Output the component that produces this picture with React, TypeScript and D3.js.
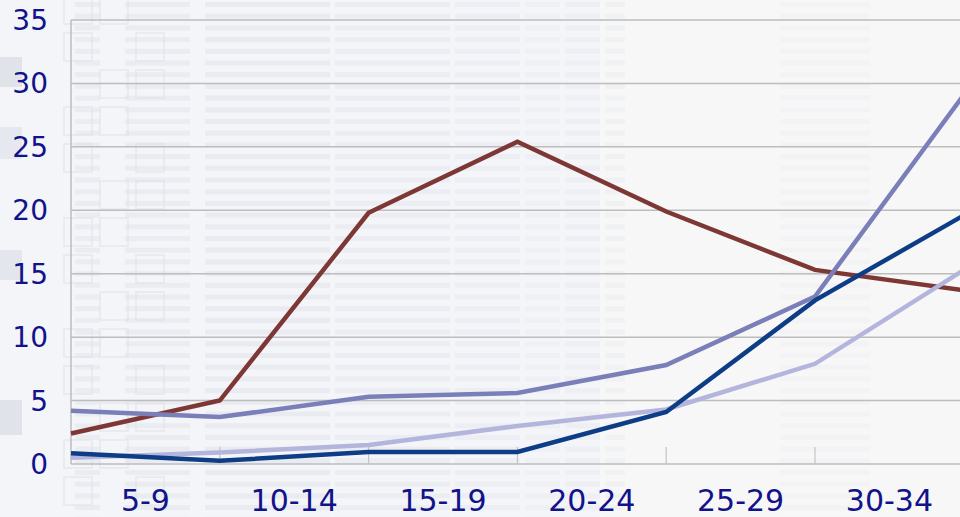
import React, { useEffect, useRef } from 'react';
import * as d3 from 'd3';

// age groups shown under the axis (labels sit between the data points)
const ageGroups = ['5-9', '10-14', '15-19', '20-24', '25-29', '30-34'];
const yTicks = [0, 5, 10, 15, 20, 25, 30, 35];

// one value per category boundary
const seriesRed = [2.4, 5.0, 19.8, 25.4, 19.9, 15.3, 13.7];
const seriesMid = [4.2, 3.7, 5.3, 5.6, 7.8, 13.2, 29.1];
const seriesLight = [0.5, 0.9, 1.5, 3.0, 4.3, 7.9, 15.3];
const seriesNavy = [0.85, 0.25, 0.95, 0.95, 4.1, 12.9, 19.6];

const series = [
  { name: 'red', values: seriesRed, color: '#7D3734' },
  { name: 'mid', values: seriesMid, color: '#7A7FBA' },
  { name: 'light', values: seriesLight, color: '#B3B5DD' },
  { name: 'navy', values: seriesNavy, color: '#0D3D86' },
];

const W = 960;
const H = 517;

export default function App() {
  const svgRef = useRef<SVGSVGElement>(null);

  useEffect(() => {
    const svg = d3.select(svgRef.current);
    svg.selectAll('*').remove();

    const left = 71;
    const top = 20;
    const bottom = 464;
    const step = 148.8;

    const x = d3.scaleLinear().domain([0, 6]).range([left, left + 6 * step]);
    const y = d3.scaleLinear().domain([0, 35]).range([bottom, top]);

    // background texture, roughly like the picture fill
    const bg = svg.append('g');
    bg.append('rect').attr('width', W).attr('height', H).attr('fill', '#F7F7F7');
    bg.append('rect').attr('x', 0).attr('width', 600).attr('height', H).attr('fill', '#F4F5F9');
    const stripeCols = [
      [75, 100, 0.7], [125, 190, 0.7], [205, 330, 0.8], [335, 450, 0.65],
      [455, 520, 0.55], [525, 560, 0.4], [565, 600, 0.45], [605, 625, 0.4], [780, 870, 0.2],
    ];
    stripeCols.forEach(([x0, x1, op]) => {
      for (let yy = 2; yy < H; yy += 11.7) {
        bg.append('rect')
          .attr('x', x0).attr('y', yy)
          .attr('width', x1 - x0).attr('height', 5)
          .attr('fill', '#E6E8EE').attr('opacity', op);
      }
    });
    // faint squares on the left
    const sq = bg.append('g').attr('fill', 'none').attr('stroke', '#E0E2E7').attr('stroke-width', 2);
    for (let r = 0; r < 14; r++) {
      for (let c = 0; c < 3; c++) {
        if ((r + c) % 3 === 2) continue;
        sq.append('rect')
          .attr('x', 64 + c * 36).attr('y', -4 + r * 37)
          .attr('width', 28).attr('height', 28)
          .attr('opacity', 0.55);
      }
    }
    bg.append('rect').attr('x', 0).attr('y', 57).attr('width', 22).attr('height', 30).attr('fill', '#E1E3EB');
    bg.append('rect').attr('x', 0).attr('y', 127).attr('width', 22).attr('height', 32).attr('fill', '#E6E8EF');
    bg.append('rect').attr('x', 0).attr('y', 250).attr('width', 22).attr('height', 30).attr('fill', '#E4E6ED');
    bg.append('rect').attr('x', 0).attr('y', 400).attr('width', 22).attr('height', 35).attr('fill', '#E1E3EB');

    // gridlines
    svg.append('g')
      .selectAll('line')
      .data(yTicks.filter((t) => t > 0))
      .join('line')
      .attr('x1', left).attr('x2', W)
      .attr('y1', (d) => y(d)).attr('y2', (d) => y(d))
      .attr('stroke', '#BDBDBD').attr('stroke-width', 1.5);

    // axes lines
    svg.append('line')
      .attr('x1', left).attr('x2', left).attr('y1', top).attr('y2', bottom)
      .attr('stroke', '#BDBDBD').attr('stroke-width', 1.5);
    svg.append('line')
      .attr('x1', left).attr('x2', W).attr('y1', bottom).attr('y2', bottom)
      .attr('stroke', '#BDBDBD').attr('stroke-width', 1.5);

    // x tick marks at category boundaries
    svg.append('g')
      .selectAll('line')
      .data(d3.range(1, 7))
      .join('line')
      .attr('x1', (d) => x(d)).attr('x2', (d) => x(d))
      .attr('y1', bottom - 17).attr('y2', bottom)
      .attr('stroke', '#C4C4C4').attr('stroke-width', 1.2);

    // y labels
    svg.append('g')
      .selectAll('text')
      .data(yTicks)
      .join('text')
      .attr('x', 48)
      .attr('y', (d) => y(d) + 10)
      .attr('text-anchor', 'end')
      .attr('font-family', 'DejaVu Sans, Verdana, sans-serif')
      .attr('font-size', 28)
      .attr('fill', '#12128A')
      .text((d) => d);

    // x labels
    svg.append('g')
      .selectAll('text')
      .data(ageGroups)
      .join('text')
      .attr('x', (d, i) => x(i + 0.5))
      .attr('y', 511)
      .attr('text-anchor', 'middle')
      .attr('font-family', 'DejaVu Sans, Verdana, sans-serif')
      .attr('font-size', 30)
      .attr('fill', '#12128A')
      .text((d) => d);

    const line = d3.line<number>()
      .x((d, i) => x(i))
      .y((d) => y(d));

    svg.append('g')
      .selectAll('path')
      .data(series)
      .join('path')
      .attr('fill', 'none')
      .attr('stroke', (d) => d.color)
      .attr('stroke-width', 4.5)
      .attr('stroke-linejoin', 'miter')
      .attr('d', (d) => line(d.values));
  }, []);

  return (
    <div style={{ position: 'fixed', left: 0, top: 0, width: W, height: H }}>
      <svg ref={svgRef} width={W} height={H} style={{ display: 'block' }}></svg>
    </div>
  );
}
